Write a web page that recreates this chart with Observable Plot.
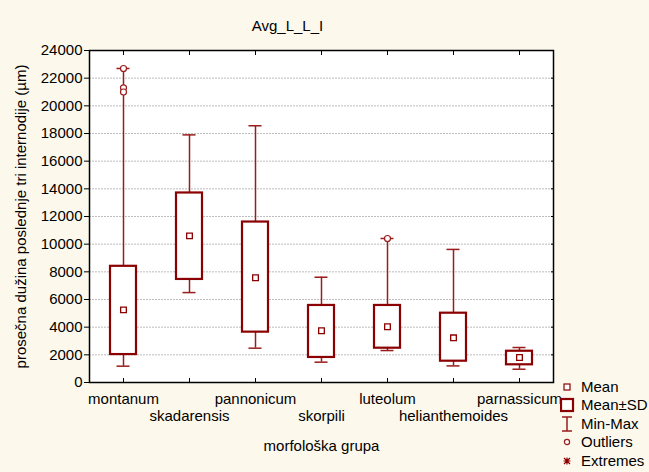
<!DOCTYPE html>
<html><head><meta charset="utf-8">
<script src="https://cdn.jsdelivr.net/npm/d3@7"></script>
<script src="https://cdn.jsdelivr.net/npm/@observablehq/plot@0.6"></script>
<style>
body{margin:0;background:#fdf8ec;font-family:"Liberation Sans",Arial,sans-serif;}
#wrap{position:relative;width:649px;height:472px;}
#legend{position:absolute;left:560px;top:378px;}
</style></head>
<body><div id="wrap"></div>
<script>
const categories = ["montanum","skadarensis","pannonicum","skorpili","luteolum","helianthemoides","parnassicum"];
const means  = [5250, 10600, 7570, 3740, 4030, 3230, 1810];
const sdLow  = [2020, 7450, 3640, 1810, 2480, 1540, 1280];
const sdHigh = [8400, 13700, 11600, 5570, 5570, 5010, 2260];
const mins   = [1180, 6500, 2480, 1470, 2310, 1200, 960];
const maxs   = [22700, 17900, 18560, 7610, 10410, 9620, 2530];
const outlierCats = ["montanum","montanum","montanum","luteolum"];
const outlierVals = [22700, 21300, 21000, 10410];
const yTicks = [0,2000,4000,6000,8000,10000,12000,14000,16000,18000,20000,22000,24000];

const data = categories.map((c,i)=>({cat:c, mean:means[i], lo:sdLow[i], hi:sdHigh[i], min:mins[i], max:maxs[i]}));
const outliers = outlierCats.map((c,i)=>({cat:c, v:outlierVals[i]}));
const even = categories.filter((d,i)=>i%2===0);
const odd = categories.filter((d,i)=>i%2===1);
const red = "#8b0000";
const wred = "#9a1c1c";
const FS = 15;

const chart = Plot.plot({
  width:649, height:472,
  marginLeft:89, marginRight:96, marginTop:50, marginBottom:90,
  style:{background:"#fdf8ec", fontFamily:"'Liberation Sans', Arial, sans-serif", fontSize:FS+"px", color:"#000"},
  x:{domain:categories, padding:0},
  y:{domain:[0,24000]},
  marks:[
    Plot.frame({fill:"white", stroke:null}),
    Plot.gridY(yTicks, {stroke:"#bdbdbd", strokeOpacity:1, strokeDasharray:"2,1"}),
    Plot.axisY(yTicks, {tickSize:5, tickPadding:2, tickFormat:d=>String(d), fontSize:FS,
      label:"prosečna dužina poslednje tri internodije (µm)", labelAnchor:"center", labelArrow:"none", labelOffset:74}),
    Plot.axisY(yTicks, {anchor:"right", tickSize:-3, tickFormat:()=>"", label:null}),
    Plot.axisX(even, {tickSize:-4, tickPadding:14.6, fontSize:FS, label:null}),
    Plot.axisX(odd, {tickSize:-4, tickPadding:31.6, fontSize:FS, label:null}),
    Plot.axisX(categories, {anchor:"top", tickSize:-4, tickFormat:()=>"", label:null}),
    Plot.text(["morfološka grupa"], {frameAnchor:"bottom", dy:68, fontSize:FS}),
    Plot.text(["Avg_L_L_I"], {frameAnchor:"top", dy:-30, dx:-34, fontSize:FS}),
    Plot.ruleX(data, {x:"cat", y1:"min", y2:"max", stroke:wred, strokeWidth:1.5}),
    Plot.tickY(data, {x:"cat", y:"max", stroke:wred, strokeWidth:1.5, insetLeft:26.5, insetRight:26.5}),
    Plot.tickY(data, {x:"cat", y:"min", stroke:wred, strokeWidth:1.5, insetLeft:26.5, insetRight:26.5}),
    Plot.barY(data, {x:"cat", y1:"lo", y2:"hi", fill:"white", stroke:red, strokeWidth:2.2, insetLeft:20, insetRight:20}),
    Plot.dot(data, {x:"cat", y:"mean", symbol:"square", r:3.2, stroke:red, strokeWidth:1.3, fill:"white"}),
    Plot.dot(outliers, {x:"cat", y:"v", r:3, stroke:wred, strokeWidth:1.2, fill:"white"}),
    Plot.frame({stroke:"#000", strokeWidth:1.5})
  ]
});
document.getElementById("wrap").appendChild(chart);

const items = ["Mean","Mean±SD","Min-Max","Outliers","Extremes"];
const leg = document.createElement("div");
leg.id = "legend";
let svg = `<svg width="89" height="94" style="font-family:'Liberation Sans',Arial,sans-serif;font-size:${FS}px">`;
const ys = [9, 27, 46, 64, 83];
svg += `<rect x="4" y="${ys[0]-3}" width="6" height="6" fill="white" stroke="${red}" stroke-width="1.2"/>`;
svg += `<rect x="1" y="${ys[1]-6}" width="12" height="12" fill="white" stroke="${red}" stroke-width="2.2"/>`;
svg += `<path d="M2,${ys[2]-7}H12M7,${ys[2]-7}V${ys[2]+7}M2,${ys[2]+7}H12" stroke="${wred}" stroke-width="1.5" fill="none"/>`;
svg += `<circle cx="7" cy="${ys[3]}" r="2.6" fill="white" stroke="${wred}" stroke-width="1.2"/>`;
svg += `<path d="M4,${ys[4]-3}L10,${ys[4]+3}M10,${ys[4]-3}L4,${ys[4]+3}M7,${ys[4]-3.5}V${ys[4]+3.5}M3.5,${ys[4]}H10.5" stroke="${red}" stroke-width="1.2"/>`;
items.forEach((t,i)=>{ svg += `<text x="21" y="${ys[i]}" dy="0.35em" fill="#000">${t}</text>`; });
svg += `</svg>`;
leg.innerHTML = svg;
document.getElementById("wrap").appendChild(leg);
</script>
</body></html>
